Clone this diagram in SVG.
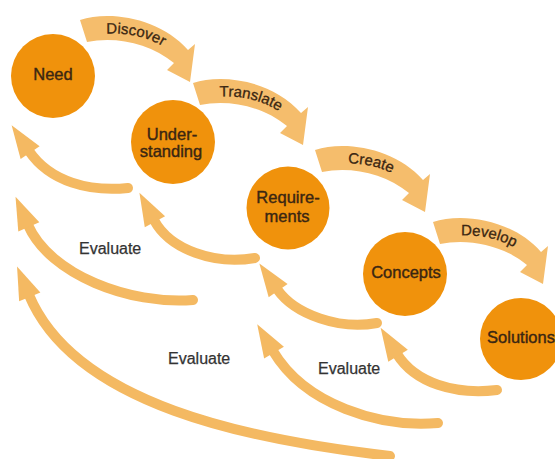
<svg xmlns="http://www.w3.org/2000/svg" xmlns:xlink="http://www.w3.org/1999/xlink" width="555" height="459" viewBox="0 0 555 459">
<style>
.node circle{fill:#f0920c}
.node text{font-family:"Liberation Sans",Arial,sans-serif;font-size:16.5px;fill:#3a2612;stroke:#3a2612;stroke-width:0.4;text-anchor:middle}
.rib{fill:#f5bd6c}
.ribt{font-family:"Liberation Sans",Arial,sans-serif;font-size:15px;fill:#3a2612;stroke:#3a2612;stroke-width:0.3}
.ev{fill:none;stroke:#f4b962;stroke-width:10;stroke-linecap:round;marker-end:url(#ah)}
.lbl{font-family:"Liberation Sans",Arial,sans-serif;font-size:16px;fill:#333;stroke:#333;stroke-width:0.25}
</style>
<defs>
<marker id="ah" markerUnits="userSpaceOnUse" orient="auto" refX="0" refY="0" markerWidth="34" markerHeight="26" overflow="visible">
<path d="M-2,-11.5 L31,0 L-2,11.5 Z" fill="#f4b962"/>
</marker>
<path id="rb" d="M80,20 C110,10 160,18 188,50 L195,44 L190,82 L167,70 L174,63 C150,43 115,36 87,42 Z"/>
<path id="tp" d="M83,37 C113,29 158,33 180,62" fill="none"/>
</defs>
<g id="connectors">
<g id="discover" transform="translate(0,0)"><use href="#rb" class="rib"/><text class="ribt" text-anchor="middle"><textPath href="#tp" xlink:href="#tp" startOffset="50%">Discover</textPath></text></g>
<g id="translate" transform="translate(113,63)"><use href="#rb" class="rib"/><text class="ribt" text-anchor="middle"><textPath href="#tp" xlink:href="#tp" startOffset="52%">Translate</textPath></text></g>
<g id="create" transform="translate(235,130)"><use href="#rb" class="rib"/><text class="ribt" text-anchor="middle"><textPath href="#tp" xlink:href="#tp" startOffset="50%">Create</textPath></text></g>
<g id="develop" transform="translate(353,202)"><use href="#rb" class="rib"/><text class="ribt" text-anchor="middle"><textPath href="#tp" xlink:href="#tp" startOffset="50%">Develop</textPath></text></g>
<path class="ev" d="M128,188 C90,192 50,182 29,151"/>
<path class="ev" d="M255,258 C215,265 170,250 154,220"/>
<path class="ev" d="M193,300 C130,305 50,275 28,225"/>
<path class="ev" d="M377,323 C340,330 295,315 277,289"/>
<path class="ev" d="M438,423 C380,428 305,405 273,351"/>
<path class="ev" d="M497,390 C455,395 415,383 397,354"/>
<path class="ev" d="M390,456 C250,440 75,405 29,295"/>
<text class="lbl" x="79" y="254">Evaluate</text>
<text class="lbl" x="168" y="364">Evaluate</text>
<text class="lbl" x="318" y="374">Evaluate</text>
</g>
<g id="need" class="node"><circle cx="53" cy="76" r="42"/><text x="53" y="80">Need</text></g>
<g id="understanding" class="node"><circle cx="173" cy="142" r="42"/><text x="172" y="140">Under-</text><text x="171" y="157">standing</text></g>
<g id="requirements" class="node"><circle cx="288" cy="208" r="41.5"/><text x="288" y="203">Require-</text><text x="287" y="222">ments</text></g>
<g id="concepts" class="node"><circle cx="405" cy="274" r="42"/><text x="406" y="278">Concepts</text></g>
<g id="solutions" class="node"><circle cx="521" cy="339" r="41"/><text x="521" y="343">Solutions</text></g>
</svg>
